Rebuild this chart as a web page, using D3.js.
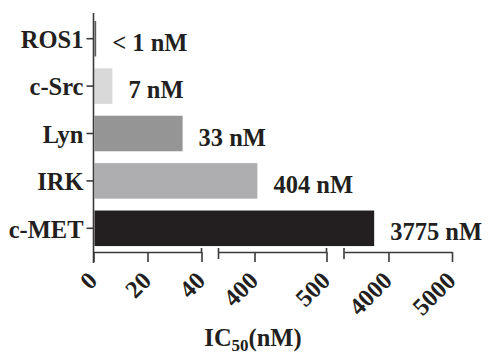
<!DOCTYPE html>
<html>
<head>
<meta charset="utf-8">
<script src="https://cdn.jsdelivr.net/npm/d3@7"></script>
<style>
  html, body { margin: 0; padding: 0; background: #fff; }
  svg { display: block; }
  text { font-family: "Liberation Serif", "Times New Roman", serif; font-weight: bold; fill: #231f20; }
</style>
</head>
<body>
<svg id="chart" width="490" height="354"></svg>
<script>
// ---- data ----
const categories = ["ROS1", "c-Src", "Lyn", "IRK", "c-MET"];
const values = [1, 7, 33, 404, 3775];
const valueLabels = ["< 1 nM", "7 nM", "33 nM", "404 nM", "3775 nM"];
const barColors = ["#5e5e5e", "#d9d9d9", "#959595", "#aeaeb0", "#231f20"];
// broken axis segments
const segDomains = [[0, 40], [350, 500], [3300, 5000]];
const segTicks = [[0, 20, 40], [400, 500], [4000, 5000]];
const xTitle = "IC";
const xTitleSub = "50";
const xTitleTail = "(nM)";

// ---- layout ----
const svg = d3.select("#chart");
const axisY = 252;
const FS = 24.5;
const segRanges = [[93.5, 201.5], [218.5, 326.5], [344, 452]];
const segScales = segDomains.map((d, i) => d3.scaleLinear().domain(d).range(segRanges[i]));
function x(v) {
  for (let i = 0; i < segScales.length; i++) {
    if (v <= segDomains[i][1] || i === segScales.length - 1) return segScales[i](v);
  }
}
const y = d3.scaleBand().domain(categories).range([15, 252]).paddingInner(0.25).paddingOuter(0.125);
const axisColor = "#3a3a3a";

// bars
svg.append("g").selectAll("rect").data(categories).join("rect")
  .attr("x", x(0) + 1)
  .attr("y", d => y(d))
  .attr("width", (d, i) => Math.max(0, x(values[i]) - x(0) - 1))
  .attr("height", y.bandwidth())
  .attr("fill", (d, i) => barColors[i]);

// value labels
svg.append("g").selectAll("text").data(categories).join("text")
  .attr("x", (d, i) => x(values[i]) + 16)
  .attr("y", d => y(d) + y.bandwidth() / 2 + 12)
  .attr("font-size", FS)
  .text((d, i) => valueLabels[i]);

// y axis
const yAxis = svg.append("g").attr("transform", `translate(${x(0)},0)`)
  .call(d3.axisLeft(y).tickSize(7).tickSizeOuter(0).tickPadding(3));
yAxis.select(".domain").attr("stroke", axisColor).attr("stroke-width", 1.6)
  .attr("d", `M0,13V${axisY + 11}`);
yAxis.selectAll(".tick line").attr("stroke", axisColor).attr("stroke-width", 1.6);
yAxis.selectAll(".tick text")
  .attr("font-size", FS)
  .attr("font-family", '"Liberation Serif", "Times New Roman", serif')
  .attr("font-weight", "bold")
  .attr("fill", "#231f20")
  .attr("dy", "0.38em");

// x axis segments
segScales.forEach((s, i) => {
  const g = svg.append("g").attr("transform", `translate(0,${axisY})`)
    .call(d3.axisBottom(s).tickValues(segTicks[i]).tickSize(10).tickSizeOuter(0).tickFormat(""));
  g.select(".domain").attr("stroke", axisColor).attr("stroke-width", 1.6);
  g.selectAll(".tick line").attr("stroke", axisColor).attr("stroke-width", 1.6);
  if (i > 0) {
    g.append("line").attr("x1", s.range()[0]).attr("x2", s.range()[0])
      .attr("y1", -4).attr("y2", 7).attr("stroke", axisColor).attr("stroke-width", 1.6);
  }
  if (i < segScales.length - 1) {
    g.append("line").attr("x1", s.range()[1]).attr("x2", s.range()[1])
      .attr("y1", -4).attr("y2", 0).attr("stroke", axisColor).attr("stroke-width", 1.6);
  }
  svg.append("g").selectAll("text").data(segTicks[i]).join("text")
    .attr("transform", d => `translate(${s(d) - 1},${axisY + 24}) rotate(-45)`)
    .attr("text-anchor", "end")
    .attr("dy", "0.35em")
    .attr("font-size", FS)
    .text(d => d);
});

// x axis title
const t = svg.append("text")
  .attr("x", 253).attr("y", 346)
  .attr("text-anchor", "middle")
  .attr("font-size", FS);
t.append("tspan").text(xTitle);
t.append("tspan").attr("font-size", 17).attr("dy", 5).text(xTitleSub);
t.append("tspan").attr("dy", -5).text(xTitleTail);
</script>
</body>
</html>
